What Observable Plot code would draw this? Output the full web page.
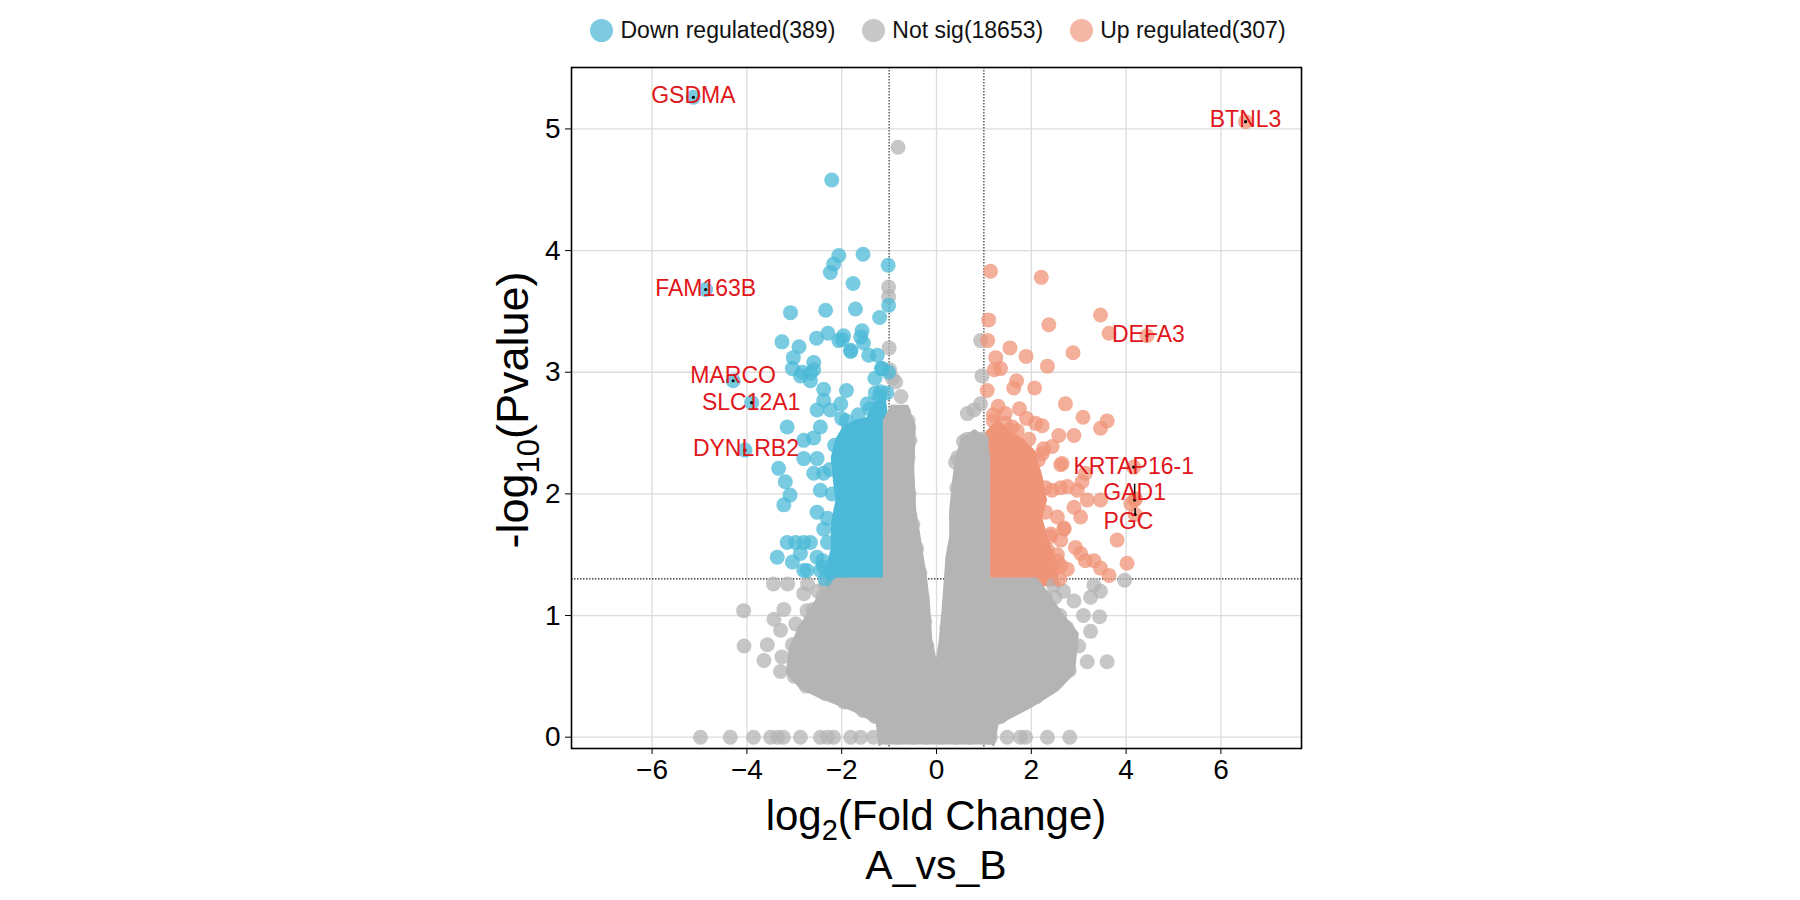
<!DOCTYPE html>
<html><head><meta charset="utf-8">
<script src="https://cdn.jsdelivr.net/npm/d3@7"></script>
<script src="https://cdn.jsdelivr.net/npm/@observablehq/plot@0.6"></script>
<style>
body{margin:0;background:#fff;font-family:"Liberation Sans",Arial,sans-serif;}
#wrap{position:relative;width:1800px;height:900px;overflow:hidden;}
#legend{position:absolute;left:590px;top:18.5px;display:flex;align-items:center;height:23px;font-size:23px;line-height:23px;color:#111;white-space:nowrap;}
#legend .sw{width:23px;height:23px;border-radius:50%;margin-right:7.5px;flex:none;}
#legend .it{display:flex;align-items:center;margin-right:26.5px;}
#chart{position:absolute;left:0;top:0;}
</style></head>
<body><div id="wrap"><div id="chart"></div><div id="legend"></div></div>
<script>
// ---------- data ----------
const categories = ["Down regulated", "Not sig", "Up regulated"];
const counts = [389, 18653, 307];
const legendColors = ["#7ECBE1", "#C8C8C8", "#F4B7A5"];
const pointColors = ["#4BB9D7", "#B4B4B4", "#F09478"];
const xTicks = [-6, -4, -2, 0, 2, 4, 6];
const yTicks = [0, 1, 2, 3, 4, 5];
const fcCut = [-1, 1];
const pCut = 1.301;

// dense grey cloud outline (log2FC, -log10 p)
const greyCloud = [[-1.2,-0.06],[-1.25,0.12],[-1.74,0.22],[-2.45,0.33],[-2.87,0.41],[-3.15,0.53],[-3.08,0.74],[-2.87,0.91],[-2.52,1.13],[-2.3,1.22],[-2.1,1.3],[-1.1,1.3],[-1.1,2.6],[-0.95,2.72],[-0.62,2.72],[-0.47,2.55],[-0.5,2.2],[-0.46,1.87],[-0.38,1.68],[-0.3,1.48],[-0.23,1.31],[-0.17,1.1],[-0.12,0.8],[0.0,0.58],[0.08,0.8],[0.15,1.1],[0.22,1.48],[0.3,1.65],[0.3,1.87],[0.36,2.1],[0.42,2.3],[0.55,2.45],[0.8,2.52],[1.05,2.45],[1.1,2.3],[1.1,1.3],[2.1,1.3],[2.34,1.18],[2.68,0.99],[2.97,0.85],[2.89,0.53],[2.55,0.39],[1.98,0.25],[1.28,0.11],[1.2,-0.06]];
// dense blue (down) cloud outline
const downCloud = [[-1.05,1.24],[-1.05,2.62],[-1.1,2.78],[-1.3,2.75],[-1.45,2.62],[-1.7,2.6],[-1.95,2.55],[-2.1,2.45],[-2.2,2.3],[-2.15,2.1],[-2.1,1.95],[-2.2,1.75],[-2.2,1.55],[-2.3,1.4],[-2.3,1.24]];
// dense salmon (up) cloud outline
const upCloud = [[1.05,1.24],[1.05,2.5],[1.3,2.6],[1.55,2.5],[1.8,2.45],[2.05,2.35],[2.2,2.15],[2.3,1.95],[2.2,1.8],[2.35,1.6],[2.5,1.45],[2.55,1.24]];

const downPoints = [[-2.21,4.58],[-2.06,3.96],[-1.55,3.97],[-1.02,3.88],[-2.17,3.89],[-2.24,3.82],[-1.76,3.73],[-1.01,3.55],[-2.34,3.51],[-1.71,3.52],[-3.08,3.49],[-1.20,3.45],[-2.53,3.28],[-2.29,3.32],[-3.26,3.25],[-2.06,3.26],[-1.99,3.27],[-1.60,3.29],[-1.54,3.24],[-2.90,3.21],[-1.81,3.17],[-3.02,3.12],[-1.43,3.14],[-1.25,3.14],[-2.59,3.08],[-1.16,3.03],[-3.04,3.03],[-2.83,3.00],[-2.66,2.99],[-2.87,2.97],[-2.59,3.02],[-1.01,3.00],[-2.66,2.93],[-2.38,2.86],[-1.18,2.84],[-1.05,2.83],[-3.15,2.55],[-2.38,2.77],[-2.24,2.69],[-2.02,2.74],[-1.46,2.74],[-1.29,2.83],[-2.52,2.69],[-2.80,2.44],[-2.59,2.46],[-2.45,2.55],[-1.96,3.30],[-1.57,3.34],[-1.81,3.18],[-1.15,3.03],[-3.33,2.21],[-3.19,2.10],[-3.09,1.99],[-3.22,1.91],[-2.80,2.29],[-2.59,2.17],[-2.52,2.29],[-2.38,2.17],[-2.45,2.03],[-2.52,1.85],[-2.38,1.71],[-3.15,1.60],[-2.97,1.60],[-2.80,1.60],[-2.66,1.60],[-3.36,1.48],[-3.04,1.44],[-2.87,1.51],[-2.52,1.48],[-2.38,1.40],[-2.73,1.37],[-2.45,1.37],[-2.03,1.37],[-2.24,1.35],[-2.80,1.37],[-1.3,2.95],[-1.9,2.85],[-2.0,2.62],
  [-2.15,2.4],[-2.25,2.2],[-2.2,2.0],[-2.3,1.8],[-2.3,1.6],[-2.4,1.45],[-2.35,1.3],[-1.9,2.6],[-1.65,2.65],[-1.4,2.7],[-1.2,2.8]];
const upPoints = [[1.14,3.83],[2.21,3.78],[1.10,3.43],[2.37,3.39],[3.46,3.47],[3.64,3.32],[1.08,3.26],[1.55,3.20],[1.89,3.13],[2.88,3.16],[1.25,3.12],[1.35,3.03],[1.22,3.02],[2.34,3.05],[1.69,2.93],[1.63,2.87],[2.07,2.87],[1.07,2.85],[2.72,2.74],[3.09,2.63],[3.60,2.60],[3.46,2.54],[2.09,2.58],[2.23,2.56],[2.58,2.48],[2.90,2.48],[2.26,2.37],[2.62,2.24],[3.07,2.10],[3.46,1.95],[3.04,1.81],[2.90,1.89],[2.69,1.71],[3.81,1.62],[4.02,1.43],[3.32,1.45],[3.46,1.39],[3.64,1.33],[2.93,1.56],[3.04,1.51],[3.14,1.45],[2.62,1.41],[2.76,1.38],[2.48,1.38],[2.34,1.54],[2.55,1.50],[2.41,1.67],[2.62,1.62],[2.55,1.81],[2.69,1.72],[2.97,2.03],[3.18,1.95],[2.44,2.03],[2.62,2.05],[2.76,2.06],[2.23,2.33],[2.44,2.39],[2.65,2.25],[4.10,1.92],[4.20,1.96],[3.14,2.17],[1.30,2.72],[1.45,2.66],[1.75,2.70],[1.90,2.62],[1.20,2.65],[1.60,2.55],
  [1.2,2.6],[1.45,2.58],[1.7,2.52],[1.95,2.45],[2.15,2.28],[2.3,2.05],[2.3,1.85],[2.4,1.65],[2.55,1.45],[2.6,1.3]];
const greyPoints = [[-0.81,4.85],[-1.01,3.70],[-1.01,3.62],[-1.0,3.20],[-0.99,3.02],[-0.93,2.95],[-0.86,2.92],[-0.69,2.67],[-0.59,2.55],[-0.56,2.44],[-0.75,2.8],[0.93,3.26],[0.96,2.97],[0.65,2.66],[0.79,2.69],[0.93,2.74],[0.57,2.43],[0.71,2.42],[0.40,2.26],[-4.07,1.04],[-4.06,0.75],[-3.43,0.97],[-3.22,1.05],[-3.29,0.88],[-3.57,0.76],[-3.64,0.63],[-3.26,0.66],[-3.29,0.54],[-3.04,0.76],[-2.97,0.93],[-2.73,1.04],[-3.44,1.26],[-3.14,1.26],[-2.72,1.26],[-2.17,1.26],[-2.8,1.18],[-2.5,1.2],[-2.35,1.25],[3.60,0.62],[3.18,0.62],[3.44,0.99],[3.25,0.87],[3.25,1.15],[3.46,1.20],[3.97,1.29],[3.32,1.25],[2.47,1.25],[2.68,1.20],[2.5,1.15],[2.9,1.12],[3.1,1.0],[3.0,0.75],
  [-3.0,0.5],[-2.95,0.7],[-2.8,0.88],[-2.6,1.05],[-2.4,1.15],[-2.2,1.22],[-2.75,0.42],[-2.35,0.36],[-1.95,0.29],[-1.55,0.22],[-1.3,0.17],
  [2.8,0.55],[2.85,0.75],[2.6,1.0],[2.3,1.15],[2.45,0.45],[2.1,0.33],[1.7,0.25],[1.35,0.17],[2.75,0.9],
  [-0.6,2.6],[-0.6,2.3],[-0.58,2.0],[-0.5,1.75],[-0.42,1.55],[-0.35,1.35],[-0.3,1.15],[-0.25,0.95],[-0.2,0.75],
  [0.45,2.3],[0.43,2.05],[0.42,1.8],[0.38,1.55],[0.32,1.3],[0.27,1.1],[0.22,0.9],[0.18,0.72],[0.65,2.45],[0.95,2.45]];
const zeroRowX = [-4.98,-4.35,-3.86,-3.50,-3.35,-3.23,-2.87,-2.45,-2.30,-2.17,-1.81,-1.60,-1.33,-1.03,-0.8,-0.5,-0.2,0.1,0.4,0.7,1.0,1.14,1.49,1.77,1.88,2.34,2.81];

const geneNames = ["GSDMA","FAM163B","MARCO","SLC12A1","DYNLRB2","BTNL3","DEFA3","KRTAP16-1","GAD1","PGC"];
const geneGroup = [0,0,0,0,0,2,2,2,2,2];
const geneX = [-5.13,-4.87,-4.29,-3.90,-4.04,6.52,4.44,4.16,4.18,4.19];
const geneY = [5.26,3.68,2.93,2.75,2.36,5.06,3.30,2.22,1.95,1.83];
const labelX = [-5.13,-4.87,-4.29,-3.91,-4.02,6.52,4.47,4.16,4.18,4.05];
const labelY = [5.27,3.69,2.97,2.75,2.37,5.08,3.31,2.22,2.01,1.77];
const segX1 = [4.18,4.19], segY1 = [2.08,1.88], segY2 = [1.95,1.83];

// ---------- legend ----------
const legend = document.getElementById("legend");
categories.forEach((c, i) => {
  const it = document.createElement("div"); it.className = "it";
  const sw = document.createElement("div"); sw.className = "sw"; sw.style.background = legendColors[i];
  const tx = document.createElement("span"); tx.textContent = `${c}(${counts[i]})`;
  it.appendChild(sw); it.appendChild(tx); legend.appendChild(it);
});

// ---------- chart ----------
const genes = geneNames.map((n, i) => ({name: n, x: geneX[i], y: geneY[i], lx: labelX[i], ly: labelY[i], c: pointColors[geneGroup[i]]}));
const segs = segX1.map((x, i) => ({x, y1: segY1[i], y2: segY2[i]}));
const dotOpts = (col) => ({x: d => d[0], y: d => d[1], r: 7.5, fill: col, fillOpacity: 0.75, stroke: "none"});
const polyOpts = (col) => ({x: d => d[0], y: d => d[1], fill: col, stroke: col, strokeWidth: 3, strokeLinejoin: "round", curve: "linear"});
const font = "'Liberation Sans', Arial, sans-serif";

const chart = Plot.plot({
  width: 1800, height: 900,
  marginLeft: 571, marginRight: 499, marginTop: 67, marginBottom: 152,
  style: {fontFamily: font, fontSize: "28px", color: "black", background: "white", overflow: "visible"},
  color: {type: "identity"},
  x: {domain: [-7.7, 7.7], ticks: xTicks, tickSize: 6, tickPadding: 5, label: null},
  y: {domain: [-0.093, 5.505], ticks: yTicks, tickSize: 6, tickPadding: 5, label: null, tickFormat: d => String(d)},
  marks: [
    Plot.ruleX(xTicks, {stroke: "#dcdcdc", strokeWidth: 1.3}),
    Plot.ruleY(yTicks, {stroke: "#dcdcdc", strokeWidth: 1.3}),
    Plot.ruleX(fcCut, {stroke: "#222", strokeWidth: 1.1, strokeDasharray: "1.5,1.5"}),
    Plot.ruleY([pCut], {stroke: "#222", strokeWidth: 1.1, strokeDasharray: "1.5,1.5"}),
    Plot.line(downCloud, polyOpts(pointColors[0])),
    Plot.line(upCloud, polyOpts(pointColors[2])),
    Plot.line(greyCloud, polyOpts(pointColors[1])),
    Plot.dot(greyPoints, dotOpts(pointColors[1])),
    Plot.dot(zeroRowX, {x: d => d, y: () => 0, r: 7.5, fill: pointColors[1], fillOpacity: 0.75, stroke: "none"}),
    Plot.dot(downPoints, dotOpts(pointColors[0])),
    Plot.dot(upPoints, dotOpts(pointColors[2])),
    Plot.dot(genes, {x: "x", y: "y", r: 7.5, fill: "c", fillOpacity: 0.75, stroke: "none"}),
    Plot.dot(genes, {x: "x", y: "y", r: 1.6, fill: "black"}),
    Plot.ruleX(segs, {x: "x", y1: "y1", y2: "y2", stroke: "black", strokeWidth: 1.5}),
    Plot.text(genes, {x: "lx", y: "ly", text: "name", fill: "#E0161B", fontSize: 23}),
    Plot.frame({stroke: "black", strokeWidth: 1.6})
  ]
});
document.getElementById("chart").appendChild(chart);

// axis titles with subscripts
const svg = d3.select(chart.tagName.toLowerCase() === "svg" ? chart : chart.querySelector("svg"));
const xt = svg.append("text").attr("x", 936).attr("y", 830).attr("text-anchor", "middle")
  .attr("font-family", font).attr("font-size", 42).attr("fill", "black");
xt.append("tspan").text("log");
xt.append("tspan").attr("dy", 10).attr("font-size", 29).text("2");
xt.append("tspan").attr("dy", -10).text("(Fold Change)");
svg.append("text").attr("x", 936).attr("y", 879).attr("text-anchor", "middle")
  .attr("font-family", font).attr("font-size", 41).attr("fill", "black").text("A_vs_B");
const yt = svg.append("text").attr("transform", "translate(528,410) rotate(-90)").attr("text-anchor", "middle")
  .attr("font-family", font).attr("font-size", 45).attr("fill", "black");
yt.append("tspan").text("-log");
yt.append("tspan").attr("dy", 11).attr("font-size", 31).text("10");
yt.append("tspan").attr("dy", -11).text("(Pvalue)");
</script>
</body></html>
